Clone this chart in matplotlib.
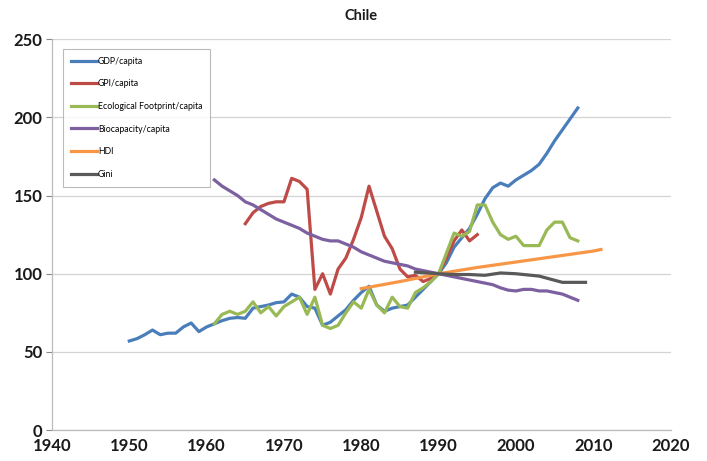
import matplotlib
matplotlib.use("Agg")
import matplotlib.pyplot as plt

plt.rcParams['font.family'] = ['Lato', 'DejaVu Sans']

# GDP/capita
gdp_years = list(range(1950, 2009))
gdp_vals = [57, 58.5, 61, 64, 61, 62, 62, 66, 68.5, 63,
            66, 68, 70, 71.5, 72, 71.5, 78, 79, 80, 81.5,
            82, 87, 85, 79, 78, 67, 69, 73, 77, 83,
            88, 92, 80, 76, 78, 79, 80, 85, 90, 95,
            100, 107, 117, 123, 129, 138, 148, 155, 158, 156,
            160, 163, 166, 170, 177, 185, 192, 199, 206]

# GPI/capita
gpi_years = list(range(1965, 1996))
gpi_vals = [132, 139, 143, 145, 146, 146, 161, 159, 154, 90,
            100, 87, 103, 110, 122, 136, 156, 140, 124, 116,
            103, 98, 99, 95, 97, 100, 110, 121, 128, 121, 125]

# Ecological Footprint/capita
eco_years = list(range(1961, 2009))
eco_vals = [68, 74, 76, 74, 76, 82, 75, 79, 73, 79,
            82, 85, 74, 85, 67, 65, 67, 75, 82, 78,
            90, 80, 75, 85, 79, 78, 88, 91, 95, 100,
            113, 126, 124, 127, 144, 144, 133, 125, 122, 124,
            118, 118, 118, 128, 133, 133, 123, 121]

# Biocapacity/capita
bio_years = list(range(1961, 2009))
bio_vals = [160, 156, 153, 150, 146, 144, 141, 138, 135, 133,
            131, 129, 126, 124, 122, 121, 121, 119, 117, 114,
            112, 110, 108, 107, 106, 105, 103, 102, 101, 100,
            99, 98, 97, 96, 95, 94, 93, 91, 89.5, 89,
            90, 90, 89, 89, 88, 87, 85, 83]

# HDI
hdi_years = [1980, 1985, 1990, 1995, 2000, 2005, 2010, 2011]
hdi_vals = [90.5, 95, 100, 104, 107.5, 111, 114.5, 115.5]

# Gini
gini_years = [1987, 1990, 1992, 1994, 1996, 1998, 2000, 2003, 2006, 2009]
gini_vals = [101, 100, 99.5, 99.5, 99, 100.5, 100, 98.5, 94.5, 94.5]

xticks = [1940, 1950, 1960, 1970, 1980, 1990, 2000, 2010, 2020]
yticks = [0, 50, 100, 150, 200, 250]

fig = plt.figure(figsize=(7.07, 4.61), dpi=100)
ax = fig.add_axes([0.0735, 0.067, 0.875, 0.848])

lw = 2.3
ax.plot(gdp_years, gdp_vals, color='#4A7EBB', lw=lw, label='GDP/capita')
ax.plot(gpi_years, gpi_vals, color='#BE4B48', lw=lw, label='GPI/capita')
ax.plot(eco_years, eco_vals, color='#98B954', lw=lw, label='Ecological Footprint/capita')
ax.plot(bio_years, bio_vals, color='#7D60A0', lw=lw, label='Biocapacity/capita')
ax.plot(hdi_years, hdi_vals, color='#F79646', lw=lw, label='HDI')
ax.plot(gini_years, gini_vals, color='#595959', lw=lw, label='Gini')

ax.set_xlim(1940, 2020)
ax.set_ylim(0, 250)
ax.set_xticks(xticks)
ax.set_yticks(yticks)
ax.tick_params(axis='both', labelsize=12, colors='#888888', labelcolor='#1a1a1a', length=4, width=0.8)
for lab in ax.get_xticklabels() + ax.get_yticklabels():
    lab.set_fontweight('bold')
ax.tick_params(axis='x', length=0, pad=6)
ax.tick_params(axis='y', pad=3)
ax.grid(axis='y', color='#D4D4D4', lw=0.9)
ax.set_axisbelow(True)
for s in ['top', 'right']:
    ax.spines[s].set_visible(False)
for s in ['left', 'bottom']:
    ax.spines[s].set_color('#BBBBBB')
    ax.spines[s].set_linewidth(0.9)

ax.set_title('Chile', fontsize=10.5, fontweight='bold', color='#1a1a1a', pad=14)

leg = ax.legend(loc='upper left', bbox_to_anchor=(0.018, 0.975), fontsize=6.3,
                frameon=True, fancybox=False, edgecolor='#AAAAAA',
                handlelength=3.0, handletextpad=0.1, labelspacing=1.55,
                borderpad=0.9, borderaxespad=0)
leg.get_frame().set_linewidth(0.8)

fig.savefig('out.png', dpi=100)
